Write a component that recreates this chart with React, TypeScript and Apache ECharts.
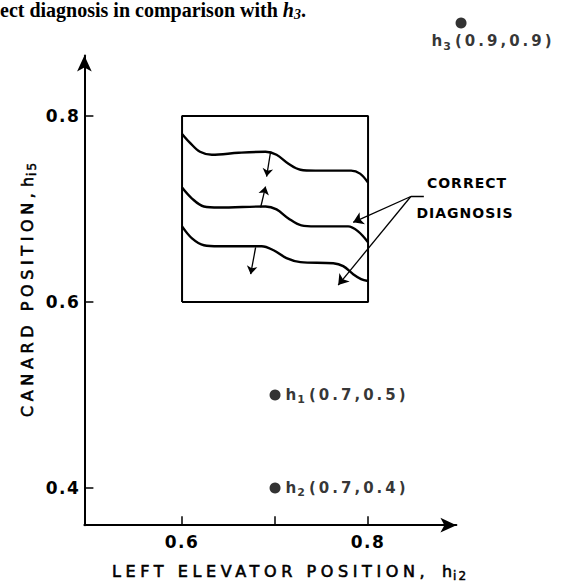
import React, { useEffect, useRef } from "react";
import * as echarts from "echarts";

// ---- axis ticks / labels ----
const xTickValues = [0.6, 0.7, 0.8];
const xLabelValues = [0.6, 0.8];
const yTickValues = [0.4, 0.6, 0.8];
const yLabelValues = [0.4, 0.6, 0.8];

// ---- labelled points h_i(x, y) ----
const pointIds = ["1", "2", "3"];
const pointX = [0.7, 0.7, 0.9];
const pointY = [0.5, 0.4, 0.9];

// ---- inset box ----
const boxX = [0.6, 0.6, 0.8, 0.8, 0.6];
const boxY = [0.6, 0.8, 0.8, 0.6, 0.6];

// ---- three wavy curves inside the box ----
const curve1X = [0.6, 0.6086, 0.6193, 0.6321, 0.661, 0.6898, 0.7016, 0.7144, 0.7273, 0.7433, 0.7818, 0.7914, 0.8];
const curve1Y = [0.7807, 0.7711, 0.7615, 0.7583, 0.7604, 0.7615, 0.7583, 0.7487, 0.7422, 0.7412, 0.7412, 0.738, 0.7283];
const curve2X = [0.6, 0.6107, 0.6235, 0.6396, 0.6898, 0.7016, 0.7144, 0.7283, 0.7433, 0.7786, 0.7893, 0.8];
const curve2Y = [0.723, 0.7112, 0.7027, 0.7016, 0.7027, 0.6995, 0.6898, 0.6824, 0.6813, 0.6813, 0.6759, 0.6642];
const curve3X = [0.6, 0.6107, 0.6235, 0.6396, 0.6856, 0.6984, 0.7123, 0.7273, 0.7626, 0.7733, 0.784, 0.7925, 0.8];
const curve3Y = [0.6813, 0.6684, 0.661, 0.6599, 0.6599, 0.6556, 0.6471, 0.6428, 0.6417, 0.6385, 0.6299, 0.6246, 0.6225];

// ---- small arrows between the curves: [x0, y0, x1, y1] ----
const smallArrows = [
  [0.6952, 0.7615, 0.6909, 0.7348],
  [0.6845, 0.7016, 0.6898, 0.7241],
  [0.6791, 0.6588, 0.6738, 0.6299],
];

// ---- "CORRECT DIAGNOSIS" leader arrows ----
const leaderOrigin = [0.846, 0.7134];
const leaderStubEnd = [0.86, 0.7134];
const leaderTargets = [
  [0.784, 0.6856],
  [0.7679, 0.6182],
];

const FONT = "'DejaVu Sans', sans-serif";
const SERIF = "'Liberation Serif', serif";
const BLACK = "#000";

export default function App() {
  const ref = useRef<HTMLDivElement>(null);

  useEffect(() => {
    if (!ref.current) return;
    const chart = echarts.init(ref.current, null, { renderer: "svg" });
    const xy = (xs: number[], ys: number[]) => xs.map((x, i) => [x, ys[i]]);

    const curveSeries = [
      [curve1X, curve1Y],
      [curve2X, curve2Y],
      [curve3X, curve3Y],
    ].map(([cx, cy]) => ({
      type: "line",
      data: xy(cx, cy),
      smooth: 0.35,
      symbol: "none",
      silent: true,
      clip: false,
      lineStyle: { color: BLACK, width: 2.4 },
    }));

    const titleRich = {
      h: { fontSize: 15.9, fontFamily: FONT, fill: BLACK, stroke: BLACK, lineWidth: 0.6, lineHeight: 20, padding: [0, 1, 0, 0] },
      s: { fontSize: 12, fontFamily: FONT, fill: BLACK, stroke: BLACK, lineWidth: 0.5, lineHeight: 12, padding: [10, 0, 0, 0] },
    };

    const option: any = {
      animation: false,
      backgroundColor: "#fff",
      grid: { left: 84.4, right: 104.6, top: 55.5, bottom: 60.8 },
      xAxis: {
        type: "value",
        min: 0.495,
        max: 0.895,
        splitLine: { show: false },
        axisLine: {
          show: true,
          symbol: ["none", "arrow"],
          symbolSize: [11, 16],
          lineStyle: { color: BLACK, width: 2 },
        },
        axisTick: {
          show: true,
          inside: true,
          length: 9,
          customValues: xTickValues,
          lineStyle: { color: BLACK, width: 1.5 },
        },
        axisLabel: {
          customValues: xLabelValues,
          formatter: (v: number) => v.toFixed(1),
          fontSize: 17,
          fontWeight: "bold",
          fontFamily: FONT,
          color: BLACK,
          margin: 8,
        },
      },
      yAxis: {
        type: "value",
        min: 0.36,
        max: 0.865,
        splitLine: { show: false },
        axisLine: {
          show: true,
          symbol: ["none", "arrow"],
          symbolSize: [11, 16],
          lineStyle: { color: BLACK, width: 2 },
        },
        axisTick: {
          show: true,
          inside: true,
          length: 9,
          customValues: yTickValues,
          lineStyle: { color: BLACK, width: 1.5 },
        },
        axisLabel: {
          customValues: yLabelValues,
          formatter: (v: number) => v.toFixed(1),
          fontSize: 17,
          fontWeight: "bold",
          fontFamily: FONT,
          color: BLACK,
          margin: 4,
        },
      },
      series: [
        {
          type: "line",
          data: xy(boxX, boxY),
          symbol: "none",
          silent: true,
          clip: false,
          lineStyle: { color: BLACK, width: 2 },
        },
        ...curveSeries,
        {
          type: "lines",
          coordinateSystem: "cartesian2d",
          silent: true,
          symbol: ["none", "arrow"],
          symbolSize: 8,
          lineStyle: { color: BLACK, width: 1.3, opacity: 1 },
          data: smallArrows.map((a) => ({ coords: [[a[0], a[1]], [a[2], a[3]]] })),
        },
        {
          type: "lines",
          coordinateSystem: "cartesian2d",
          silent: true,
          symbol: ["none", "arrow"],
          symbolSize: 10,
          lineStyle: { color: BLACK, width: 1.3, opacity: 1 },
          data: leaderTargets.map((t) => ({ coords: [leaderOrigin, t] })),
        },
        {
          type: "lines",
          coordinateSystem: "cartesian2d",
          silent: true,
          symbol: ["none", "none"],
          lineStyle: { color: BLACK, width: 1.3, opacity: 1 },
          data: [{ coords: [leaderOrigin, leaderStubEnd] }],
        },
        {
          type: "scatter",
          clip: false,
          symbolSize: 11,
          itemStyle: { color: BLACK },
          data: pointIds.map((id, i) => ({
            value: [pointX[i], pointY[i]],
            name: id,
            label:
              i === 2
                ? { position: [-24, 14], align: "left", verticalAlign: "top" }
                : undefined,
          })),
          label: {
            show: true,
            position: "right",
            distance: 5,
            color: BLACK,
            formatter: (p: any) =>
              `{h|h}{s|${p.name}}{t|(${p.value[0].toFixed(1)},${p.value[1].toFixed(1)})}`,
            rich: {
              h: { fontSize: 15.2, fontWeight: "bold", fontFamily: FONT, color: BLACK, lineHeight: 20, padding: [0, 1, 0, 0] },
              s: { fontSize: 11, fontWeight: "bold", fontFamily: FONT, color: BLACK, lineHeight: 12, padding: [10, 4, 0, 0] },
              t: { fontSize: 15, fontWeight: "bold", fontFamily: FONT, color: BLACK, lineHeight: 20 },
            },
          },
        },
      ],
      graphic: [
        {
          type: "text",
          x: 0,
          y: 10,
          silent: true,
          style: {
            text: "{n|ect diagnosis in comparison with }{i|h}{s|3}{n|.}",
            align: "left",
            verticalAlign: "middle",
            textAlign: "left",
            textVerticalAlign: "middle",
            rich: {
              n: { fontSize: 20, fontWeight: "bold", fontFamily: SERIF, fill: BLACK, lineHeight: 20 },
              i: { fontSize: 20, fontWeight: "bold", fontStyle: "italic", fontFamily: SERIF, fill: BLACK, lineHeight: 20 },
              s: { fontSize: 14, fontWeight: "bold", fontStyle: "italic", fontFamily: SERIF, fill: BLACK, lineHeight: 12, padding: [8, 0, 0, 0] },
            },
          },
        },
        {
          type: "text",
          x: 112,
          y: 571,
          silent: true,
          style: {
            text: "LEFT ELEVATOR POSITION,",
            fontSize: 16,
            fontFamily: FONT,
            fill: BLACK,
            stroke: BLACK,
            lineWidth: 0.6,
            align: "left",
            verticalAlign: "middle",
            textAlign: "left",
            textVerticalAlign: "middle",
          },
        },
        {
          type: "text",
          x: 442,
          y: 571,
          silent: true,
          style: {
            text: "{h|h}{s|i2}",
            align: "left",
            verticalAlign: "middle",
            textAlign: "left",
            textVerticalAlign: "middle",
            rich: titleRich,
          },
        },
        {
          type: "text",
          x: 27,
          y: 417,
          rotation: Math.PI / 2,
          silent: true,
          style: {
            text: "CANARD POSITION,",
            fontSize: 16,
            fontFamily: FONT,
            fill: BLACK,
            stroke: BLACK,
            lineWidth: 0.6,
            align: "left",
            verticalAlign: "middle",
            textAlign: "left",
            textVerticalAlign: "middle",
          },
        },
        {
          type: "text",
          x: 27,
          y: 187,
          rotation: Math.PI / 2,
          silent: true,
          style: {
            text: "{h|h}{s|i5}",
            align: "left",
            verticalAlign: "middle",
            textAlign: "left",
            textVerticalAlign: "middle",
            rich: titleRich,
          },
        },
        {
          type: "text",
          x: 467,
          y: 183,
          silent: true,
          style: {
            text: "CORRECT",
            fontSize: 14,
            fontWeight: "bold",
            fontFamily: FONT,
            fill: BLACK,
            align: "center",
            verticalAlign: "middle",
            textAlign: "center",
            textVerticalAlign: "middle",
          },
        },
        {
          type: "text",
          x: 465,
          y: 213,
          silent: true,
          style: {
            text: "DIAGNOSIS",
            fontSize: 14,
            fontWeight: "bold",
            fontFamily: FONT,
            fill: BLACK,
            align: "center",
            verticalAlign: "middle",
            textAlign: "center",
            textVerticalAlign: "middle",
          },
        },
      ],
    };

    chart.setOption(option);
    return () => chart.dispose();
  }, []);

  const css = [
    `.fig-chart text{letter-spacing:0}`,
    `.fig-chart text:not([style*="Serif"])[style*=" 16px"]{letter-spacing:4.6px}`,
    `.fig-chart text:not([style*="Serif"])[style*=" 12px"]{letter-spacing:2px}`,
    `.fig-chart text:not([style*="Serif"])[style*="17px"]{letter-spacing:1.5px}`,
    `.fig-chart text:not([style*="Serif"])[style*=" 15px"]{letter-spacing:3px}`,
    `.fig-chart text:not([style*="Serif"])[style*=" 14px"]{letter-spacing:1px}`,
  ].join("\n");

  return (
    <>
      <style>{css}</style>
      <div
        ref={ref}
        className="fig-chart"
        style={{ position: "absolute", left: 0, top: 0, width: 561, height: 586, background: "#fff" }}
      />
    </>
  );
}
